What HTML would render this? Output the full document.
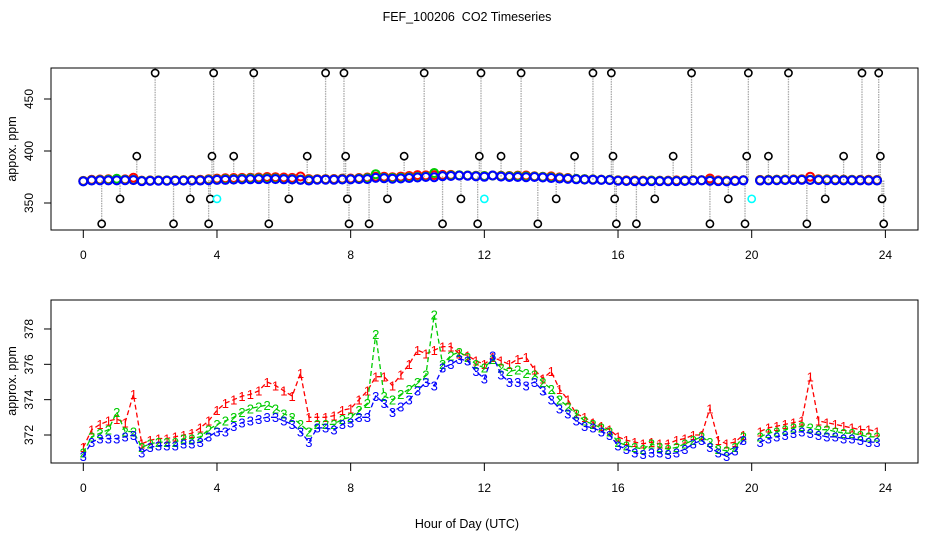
<!DOCTYPE html>
<html><head><meta charset="utf-8">
<style>
html,body{margin:0;padding:0;background:#fff;}
svg{display:block;font-family:"Liberation Sans",sans-serif;}
</style></head>
<body>
<svg id="chart" width="936" height="540" viewBox="0 0 936 540" xmlns="http://www.w3.org/2000/svg">
<text x="467" y="21" font-size="12.5" text-anchor="middle" style="white-space:pre">FEF_100206  CO2 Timeseries</text>
<text x="467" y="528" font-size="12.5" text-anchor="middle">Hour of Day (UTC)</text>
<g id="topPanel"></g>
<g id="botPanel"></g>
</svg>
<script>
const hours = [];
for (let i = 0; i < 96; i++) hours.push(i * 0.25);
const series3 = [370.8,371.6,371.8,371.8,371.8,371.9,372.0,371.0,371.3,371.4,371.4,371.4,371.5,371.5,371.6,371.9,
372.2,372.2,372.5,372.7,372.8,372.9,373.0,373.0,372.8,372.6,372.2,371.6,372.4,372.4,372.3,372.6,
372.7,373.0,373.0,374.2,373.8,373.3,373.6,374.0,374.5,375.0,374.8,375.8,376.0,376.3,376.2,375.6,
375.2,376.5,375.4,375.0,375.0,374.8,375.0,374.5,374.0,373.5,373.2,372.8,372.5,372.4,372.2,372.0,
371.4,371.2,371.0,370.9,371.0,371.0,370.9,371.0,371.2,371.5,371.7,371.3,371.0,370.8,371.1,371.7,
null,371.6,371.8,371.9,372.0,372.1,372.2,372.1,372.0,371.9,371.9,371.8,371.8,371.7,371.6,371.6];
const series2 = [371.0,371.9,372.1,372.3,373.3,372.2,372.2,371.3,371.5,371.6,371.6,371.6,371.8,371.8,371.9,372.3,
372.6,372.8,373.0,373.3,373.5,373.6,373.7,373.5,373.2,373.0,372.6,372.2,372.6,372.6,372.6,372.9,
373.0,373.4,373.8,377.7,374.2,374.0,374.3,374.6,375.0,375.4,378.8,376.0,376.5,376.7,376.4,376.0,
375.8,376.3,375.8,375.6,375.7,375.5,375.4,375.0,374.6,374.0,373.6,373.2,372.8,372.6,372.4,372.2,
371.6,371.4,371.3,371.2,371.5,371.3,371.2,371.3,371.5,371.7,371.9,371.6,371.2,371.1,371.3,371.9,
null,371.9,372.1,372.2,372.3,372.4,372.5,372.4,372.3,372.3,372.2,372.1,372.1,372.0,371.9,371.9];
const series1 = [371.3,372.3,372.6,372.8,372.9,372.7,374.3,371.5,371.7,371.8,371.8,371.9,372.0,372.1,372.4,372.8,
373.4,373.8,374.0,374.2,374.3,374.5,375.0,374.8,374.5,374.2,375.5,373.0,373.0,373.0,373.1,373.4,
373.5,374.0,374.5,375.3,375.3,374.8,375.4,376.0,376.8,376.6,376.8,377.0,377.0,376.6,376.5,376.2,
376.0,376.4,376.2,376.0,376.3,376.4,375.7,375.2,375.6,374.6,374.0,373.2,373.0,372.7,372.5,372.3,
371.9,371.7,371.6,371.5,371.6,371.5,371.5,371.7,371.8,372.0,372.0,373.5,371.7,371.5,371.6,372.0,
null,372.2,372.4,372.5,372.6,372.7,372.8,375.3,372.8,372.7,372.6,372.5,372.4,372.3,372.3,372.2];
const outlierHours = [0.55,1.1,1.6,2.15,2.7,3.2,3.75,3.8,3.85,3.9,4.5,5.1,5.55,6.15,6.7,7.25,7.8,7.85,7.9,7.95,
8.55,9.1,9.6,10.2,10.75,11.3,11.8,11.85,11.9,12.5,13.1,13.6,14.15,14.7,15.25,15.8,15.85,15.9,15.95,
16.55,17.1,17.65,18.2,18.75,19.3,19.8,19.85,19.9,20.5,21.1,21.65,22.2,22.75,23.3,23.8,23.85,23.9,23.95];
const outlierValues = [330,354,395,475,330,354,330,354,395,475,395,475,330,354,395,475,475,395,354,330,
330,354,395,475,330,354,330,395,475,395,475,330,354,395,475,475,395,354,330,
330,354,395,475,330,354,330,395,475,395,475,330,354,395,475,475,395,354,330];
const cyanHours = [4.0,12.0,20.0];
const cyanValues = [354,354,354];
const xTicks = [0,4,8,12,16,20,24];
const topYTicks = [350,400,450];
const botYTicks = [372,374,376,378];

const NS = "http://www.w3.org/2000/svg";
function mk(parent, tag, attrs, text) {
  const e = document.createElementNS(NS, tag);
  for (const k in attrs) e.setAttribute(k, attrs[k]);
  if (text !== undefined) e.textContent = text;
  parent.appendChild(e);
  return e;
}
const X = h => 83.3 + h * 33.42;
const topY = v => 203 - (v - 350) * 1.04;
const botY = v => 435 - (v - 372) * 17.67;

function frame(g, y0, y1, yTicks, Y, yTitle, yTitleY, tickLabelY) {
  const r = mk(g, "rect", {x: 51, y: y0, width: 867, height: y1 - y0, fill: "none", stroke: "#000", "stroke-width": 1});
  
  
  xTicks.forEach(t => {
    const l = mk(g, "line", {x1: X(t), x2: X(t), y1: y1, y2: y1 + 8, stroke: "#000"});
    
    
    const tx = mk(g, "text", {x: X(t), y: tickLabelY, "font-size": 12, "text-anchor": "middle"}, String(t));
    
    
  });
  yTicks.forEach(t => {
    const l = mk(g, "line", {x1: 44, x2: 51, y1: Y(t), y2: Y(t), stroke: "#000"});
    
    
    const tx = mk(g, "text", {x: 0, y: 0, "font-size": 12, "text-anchor": "middle", transform: `translate(33,${Y(t)}) rotate(-90)`}, String(t));
    
    
  });
  const tt = mk(g, "text", {x: 0, y: 0, "font-size": 12.5, "text-anchor": "middle", transform: `translate(16,${yTitleY}) rotate(-90)`}, yTitle);
  
  
}

// TOP PANEL
const topG = document.getElementById("topPanel");
frame(topG, 68, 230, topYTicks, topY, "appox. ppm", 149, 259);
outlierHours.forEach((h, i) => {
  const idx = Math.min(95, Math.round(h / 0.25));
  const base = series3[idx] == null ? 372 : series3[idx];
  const l = mk(topG, "line", {x1: X(h), x2: X(h), y1: topY(base), y2: topY(outlierValues[i]), stroke: "#aaa", "stroke-width": 1.3, "stroke-dasharray": "1.5,1"});
  
  
});
[[series1, "#f00"], [series2, "#0c0"], [series3, "#00f"]].forEach(([s, c], si) => {
  s.forEach((v, i) => {
    if (v == null) return;
    const p = mk(topG, "circle", {cx: X(hours[i]), cy: topY(v), r: 4, fill: "none", stroke: c, "stroke-width": 2});
    
    
  });
});
outlierHours.forEach((h, i) => {
  const p = mk(topG, "circle", {cx: X(h), cy: topY(outlierValues[i]), r: 3.6, fill: "#fff", stroke: "#000", "stroke-width": 1.6});
  
  
});
cyanHours.forEach((h, i) => {
  const p = mk(topG, "circle", {cx: X(h), cy: topY(cyanValues[i]), r: 3.6, fill: "#fff", stroke: "#0ff", "stroke-width": 1.6});
  
  
});

// BOTTOM PANEL
const botG = document.getElementById("botPanel");
frame(botG, 300, 463, botYTicks, botY, "approx. ppm", 381, 492);
[[series1, "#f00", "1"], [series2, "#0c0", "2"], [series3, "#00f", "3"]].forEach(([s, c, lab], si) => {
  let seg = [];
  const segs = [];
  s.forEach((v, i) => {
    if (v == null) { if (seg.length) segs.push(seg); seg = []; return; }
    seg.push(X(hours[i]).toFixed(1) + "," + botY(v).toFixed(1));
  });
  if (seg.length) segs.push(seg);
  segs.forEach(sg => {
    const pl = mk(botG, "polyline", {points: sg.join(" "), fill: "none", stroke: c, "stroke-width": 1.3, "stroke-dasharray": "5,3"});
    
    
  });
  s.forEach((v, i) => {
    if (v == null) return;
    const t = mk(botG, "text", {x: X(hours[i]), y: botY(v) + 4.8, "font-size": 13, fill: c, "text-anchor": "middle"}, lab);
    
    
  });
});
</script>
</body></html>
